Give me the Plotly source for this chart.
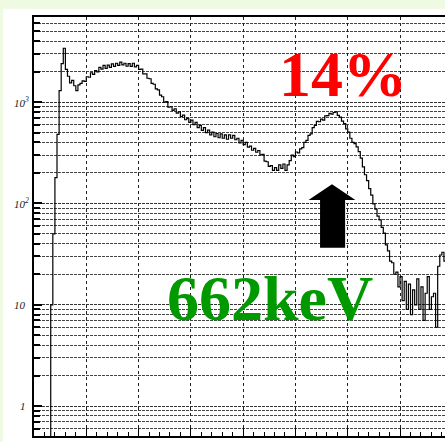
import plotly.graph_objects as go

channels = list(range(28, 789, 4))
counts = [
    0.2, 10, 50, 180, 480, 1300, 2400, 3400, 2100, 1800,
    1550, 1640, 1450, 1300, 1480, 1530, 1620, 1600, 1780, 1760,
    1950, 1880, 2050, 1990, 2200, 2120, 2300, 2150, 2320, 2200,
    2380, 2250, 2420, 2300, 2480, 2330, 2420, 2260, 2400, 2250,
    2420, 2230, 2300, 2100, 2120, 1900, 1900, 1720, 1700, 1530,
    1500, 1350, 1320, 1170, 1130, 1000, 1010, 890, 900, 830,
    860, 780, 800, 720, 745, 670, 690, 630, 665, 600,
    630, 560, 590, 525, 560, 500, 530, 475, 505, 455,
    490, 445, 485, 440, 475, 430, 475, 440, 470, 425,
    440, 395, 420, 380, 400, 360, 368, 335, 350, 320,
    333, 302, 305, 262, 258, 232, 236, 212, 226, 212,
    240, 222, 245, 212, 240, 265, 300, 290, 322, 315,
    345, 355, 400, 420, 470, 485, 560, 590, 645, 640,
    680, 665, 730, 735, 775, 760, 790, 800, 740, 710,
    650, 615, 545, 505, 440, 400, 390, 362, 325, 280,
    230, 192, 168, 140, 121, 99, 88, 75, 69, 58,
    51, 39, 34, 27, 26, 20, 21, 15, 19, 11,
    17, 9, 16, 8, 14, 10, 18, 9, 15, 7,
    13, 19, 9, 12, 13, 6, 24, 31, 33, 27,
    28,
]

y_tick_vals = [0, 1, 2, 3]
y_tick_text = ["<i>1</i>", "<i>10</i>", "<i>10<sup>2</sup></i>", "<i>10<sup>3</sup></i>"]
y_tick_x = [-0.0390, -0.0535, -0.0535, -0.0535]

x_tick_vals = [0, 100, 200, 300, 400, 500, 600, 700]
x_tick_text = ["0", "100", "200", "300", "400", "500", "600", "700"]

fig = go.Figure()
fig.add_trace(go.Scatter(
    x=channels[:len(counts)], y=counts, mode="lines",
    line=dict(color="black", width=1.2, shape="hv"),
    showlegend=False, hoverinfo="skip",
))

fig.update_layout(
    width=445, height=442,
    margin=dict(l=34, r=0, t=17, b=6),
    paper_bgcolor="white", plot_bgcolor="white",
    xaxis=dict(
        range=[0, 786], tickvals=x_tick_vals, ticktext=x_tick_text,
        automargin=False,
        showline=True, linecolor="black", linewidth=1.5, mirror=True,
        ticks="inside", ticklen=8, tickcolor="black",
        showgrid=True, gridcolor="#222", griddash="dot", gridwidth=1,
        zeroline=False,
        tickfont=dict(family="Liberation Serif", size=11, color="#c8c8c8"),
        minor=dict(dtick=20, ticks="inside", ticklen=4, tickcolor="black", showgrid=False),
    ),
    yaxis=dict(
        type="log", range=[-0.295, 3.84], dtick=1,
        automargin=False,
        showline=True, linecolor="black", linewidth=1.5, mirror=False,
        ticks="inside", ticklen=8, tickcolor="black", tickwidth=1.5,
        showgrid=True, gridcolor="#333", griddash="3px,1px", gridwidth=1,
        showticklabels=False, zeroline=False,
        minor=dict(ticks="inside", ticklen=6, tickcolor="black",
                   showgrid=True, gridcolor="#444", griddash="3px,1px", gridwidth=1),
    ),
)

# pale green slide background strips
fig.add_shape(type="rect", xref="paper", yref="paper", x0=-0.0827, x1=1.0, y0=1.0195, y1=1.041,
              fillcolor="#eefae2", line=dict(width=0), layer="below")
fig.add_shape(type="rect", xref="paper", yref="paper", x0=-0.0827, x1=-0.0754, y0=-0.02, y1=1.041,
              fillcolor="#eefae2", line=dict(width=0), layer="below")

# arrow
fig.add_shape(type="path", xref="paper", yref="paper",
              path="M 0.725,0.601 L 0.782,0.563 L 0.757,0.563 L 0.757,0.449 L 0.696,0.449 L 0.696,0.563 L 0.668,0.563 Z",
              fillcolor="black", line=dict(width=0))

for v, t, xp in zip(y_tick_vals, y_tick_text, y_tick_x):
    fig.add_annotation(x=xp, y=v, xref="paper", yref="y", text=t, showarrow=False,
                       xanchor="left", yanchor="middle",
                       font=dict(family="Liberation Serif", size=11, color="#222"))

fig.add_annotation(x=(343 - 34) / 411, y=(436 - 74) / 419, xref="paper", yref="paper",
                   text="<b>14%</b>", showarrow=False, xanchor="center", yanchor="middle",
                   font=dict(family="Liberation Serif", size=64, color="#ff0000"))
fig.add_annotation(x=(270 - 34) / 411, y=(436 - 298) / 419, xref="paper", yref="paper",
                   text="<b>662keV</b>", showarrow=False, xanchor="center", yanchor="middle",
                   font=dict(family="Liberation Serif", size=64, color="#009a00"))

fig.write_html(
    "out.html",
    config={"displayModeBar": False},
    post_script="document.body.style.margin='0px';document.body.style.overflow='hidden';",
)
